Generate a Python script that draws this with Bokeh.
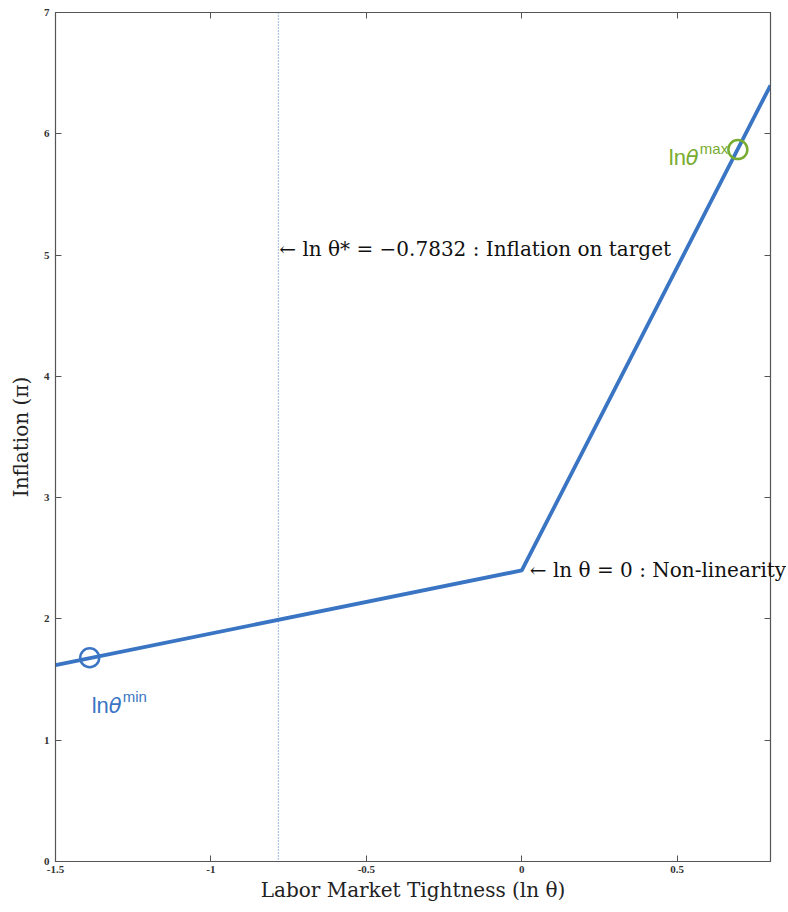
from bokeh.plotting import figure
from bokeh.models import LinearAxis, Range1d, Label, FixedTicker, Span
from bokeh.core.properties import value
from bokeh.embed import file_html
from bokeh.resources import INLINE

# data
curve_x = [-1.5, 0.0, 0.8]
curve_y = [1.62, 2.4, 6.4]
theta_star = -0.7832
min_pt = (-1.39, 1.68)
max_pt = (0.695, 5.87)
kink_pt = (0.0, 2.4)
x_ticks = [-1.5, -1, -0.5, 0, 0.5]
y_ticks = [0, 1, 2, 3, 4, 5, 6, 7]

BLUE = "#3A75C4"
GREEN = "#77AC30"
AXC = "#555555"
SERIF = "DejaVu Serif"

p = figure(width=786, height=904, output_backend="svg", toolbar_location=None,
           x_range=Range1d(-1.5, 0.8), y_range=Range1d(0, 7),
           min_border_left=55, min_border_right=16, min_border_top=12, min_border_bottom=39)
p.xgrid.visible = False
p.ygrid.visible = False
p.outline_line_color = AXC
p.outline_line_width = 1.2

def style(ax, labels=True):
    ax.major_tick_in = 6
    ax.major_tick_out = 0
    ax.minor_tick_in = 0
    ax.minor_tick_out = 0
    ax.axis_line_color = AXC
    ax.major_tick_line_color = AXC
    ax.major_label_text_font = "Liberation Sans Narrow"
    ax.major_label_text_font_style = "bold"
    ax.major_label_text_font_size = "11px"
    ax.major_label_text_color = "#333333"
    ax.axis_label_text_font = SERIF
    ax.axis_label_text_font_style = "normal"
    ax.axis_label_text_font_size = "20px"
    ax.axis_label_text_color = "#222222"
    if not labels:
        ax.major_label_text_font_size = "0px"
        ax.major_label_text_color = None

p.xaxis.ticker = FixedTicker(ticks=x_ticks)
p.yaxis.ticker = FixedTicker(ticks=y_ticks)
p.xaxis.major_label_overrides = {-1.5: "-1.5", -1: "-1", -0.5: "-0.5", 0: "0", 0.5: "0.5"}
style(p.xaxis[0])
style(p.yaxis[0])
p.xaxis.axis_label = "Labor Market Tightness (ln θ)"
p.yaxis.axis_label = "Inflation (π)"
p.xaxis.major_label_standoff = 4
p.yaxis.major_label_standoff = 6
p.xaxis.axis_label_standoff = 2
p.yaxis.axis_label_standoff = 8

top = LinearAxis(ticker=FixedTicker(ticks=x_ticks))
style(top, labels=False)
p.add_layout(top, "above")
right = LinearAxis(ticker=FixedTicker(ticks=y_ticks))
style(right, labels=False)
p.add_layout(right, "right")
top.major_label_standoff = 0
right.major_label_standoff = 0

# dotted vertical line
p.add_layout(Span(location=theta_star, dimension="height", line_color=BLUE,
                  line_width=1, line_dash="1 2"))

# curve
p.line(curve_x, curve_y, line_color=BLUE, line_width=3.8)

# markers
p.scatter([min_pt[0]], [min_pt[1]], marker="circle", size=19, fill_color=None,
          line_color=BLUE, line_width=2.5)
p.scatter([max_pt[0]], [max_pt[1]], marker="circle", size=19, fill_color=None,
          line_color=GREEN, line_width=2.5)

# annotations
p.add_layout(Label(x=theta_star, y=5.05, x_offset=1,
                   text="← ln θ* = −0.7832 : Inflation on target",
                   text_font=SERIF, text_font_size="20px",
                   text_baseline="middle", text_color="#111111"))
p.text(x=[kink_pt[0]], y=[kink_pt[1]], text=["← ln θ = 0 : Non-linearity"],
       x_offset=8, text_font=value(SERIF), text_font_size="20px",
       text_baseline="middle", text_color="#111111", level="overlay")

# lnθ labels
def ln_label(pt, color, dx, dy, sup):
    p.add_layout(Label(x=pt[0], y=pt[1], x_offset=dx, y_offset=dy,
                       text="ln", text_font="Liberation Sans", text_font_size="22px",
                       text_color=color, text_baseline="alphabetic"))
    p.add_layout(Label(x=pt[0], y=pt[1], x_offset=dx + 17, y_offset=dy,
                       text="θ", text_font="DejaVu Sans", text_font_style="italic",
                       text_font_size="21px",
                       text_color=color, text_baseline="alphabetic"))
    p.add_layout(Label(x=pt[0], y=pt[1], x_offset=dx + 31, y_offset=dy + 9,
                       text=sup, text_font="Liberation Sans", text_font_size="15px",
                       text_color=color, text_baseline="alphabetic"))

ln_label(min_pt, BLUE, 2, -48, "min")
ln_label(max_pt, GREEN, -69, -8, "max")

open("out.html", "w").write(file_html(p, INLINE))
